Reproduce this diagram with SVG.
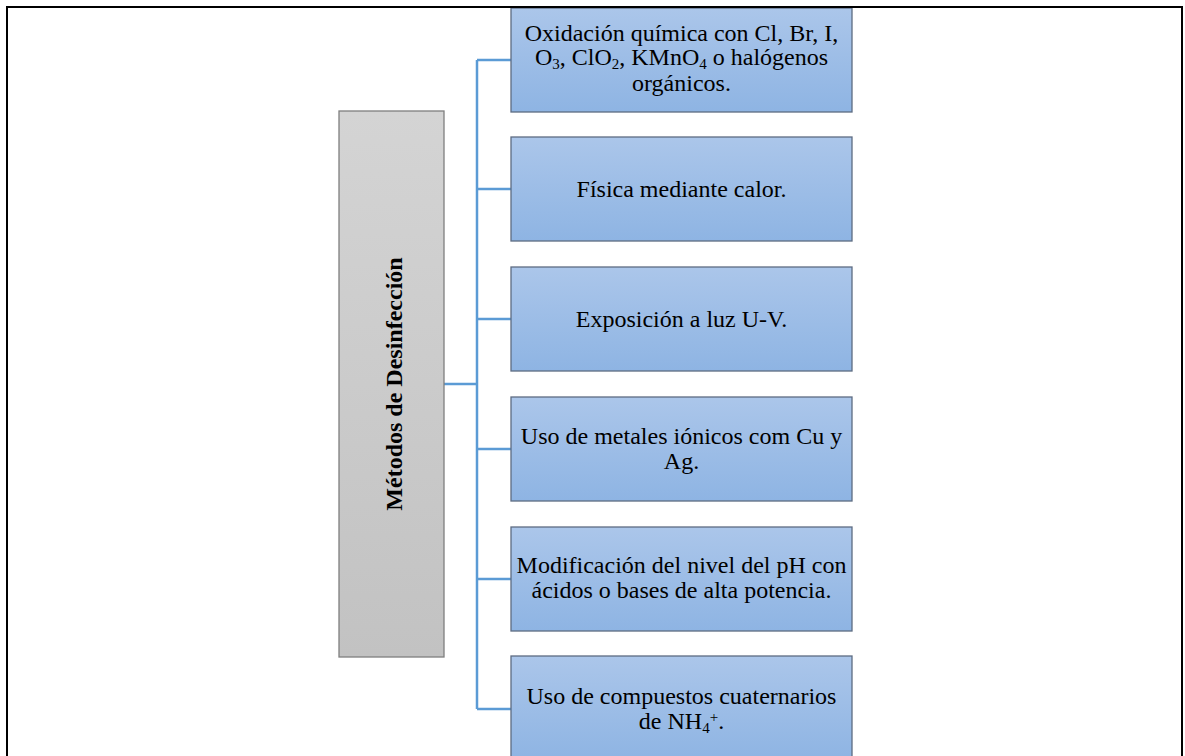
<svg xmlns="http://www.w3.org/2000/svg" width="1185" height="756" viewBox="0 0 1185 756">
<defs>
<linearGradient id="gBlue" x1="0" y1="0" x2="0" y2="1">
<stop offset="0" stop-color="#abc6ea"/>
<stop offset="1" stop-color="#8eb4e3"/>
</linearGradient>
<linearGradient id="gGray" x1="0" y1="0" x2="0" y2="1">
<stop offset="0" stop-color="#d4d4d4"/>
<stop offset="1" stop-color="#c2c2c2"/>
</linearGradient>
</defs>
<style>
.box{fill:url(#gBlue);stroke:#5d6c82;stroke-width:1.3}
.t{font-family:"Liberation Serif","Times New Roman",serif;font-size:24px;fill:#000;text-anchor:middle}
.s{font-size:15px}
.conn{fill:none;stroke:#5b9bd5;stroke-width:2.5}
</style>
<rect x="0" y="0" width="1185" height="756" fill="#fff"/>
<g id="connectors">
<path class="conn" d="M444,384H477M477,60V709M477,60H511M477,189H511M477,319H511M477,449H511M477,579H511M477,709H511"/>
</g>
<g id="root">
<rect x="339" y="111" width="105" height="546" fill="url(#gGray)" stroke="#7f7f7f" stroke-width="1.3"/>
<text class="t" font-weight="bold" transform="translate(402,384) rotate(-90)">Métodos de Desinfección</text>
</g>
<g id="n1">
<rect class="box" x="511" y="8" width="341" height="104"/>
<text class="t" x="681.5" y="41">Oxidación química con Cl, Br, I,</text>
<text class="t" x="681.5" y="65">O<tspan class="s" dy="4">3</tspan><tspan dy="-4">, ClO</tspan><tspan class="s" dy="4">2</tspan><tspan dy="-4">, KMnO</tspan><tspan class="s" dy="4">4</tspan><tspan dy="-4"> o halógenos</tspan></text>
<text class="t" x="681.5" y="91">orgánicos.</text>
</g>
<g id="n2">
<rect class="box" x="511" y="137" width="341" height="104"/>
<text class="t" x="681.5" y="197">Física mediante calor.</text>
</g>
<g id="n3">
<rect class="box" x="511" y="267" width="341" height="104"/>
<text class="t" x="681.5" y="327">Exposición a luz U-V.</text>
</g>
<g id="n4">
<rect class="box" x="511" y="397" width="341" height="104"/>
<text class="t" x="681.5" y="444">Uso de metales iónicos com Cu y</text>
<text class="t" x="681.5" y="469">Ag.</text>
</g>
<g id="n5">
<rect class="box" x="511" y="527" width="341" height="104"/>
<text class="t" x="681.5" y="573">Modificación del nivel del pH con</text>
<text class="t" x="681.5" y="598">ácidos o bases de alta potencia.</text>
</g>
<g id="n6">
<rect class="box" x="511" y="656" width="341" height="104"/>
<text class="t" x="681.5" y="704">Uso de compuestos cuaternarios</text>
<text class="t" x="681.5" y="729">de NH<tspan class="s" dy="4">4</tspan><tspan class="s" dy="-11">+</tspan><tspan dy="7">.</tspan></text>
</g>
<path d="M7,757V7H1182V757" fill="none" stroke="#000" stroke-width="2"/>
</svg>
